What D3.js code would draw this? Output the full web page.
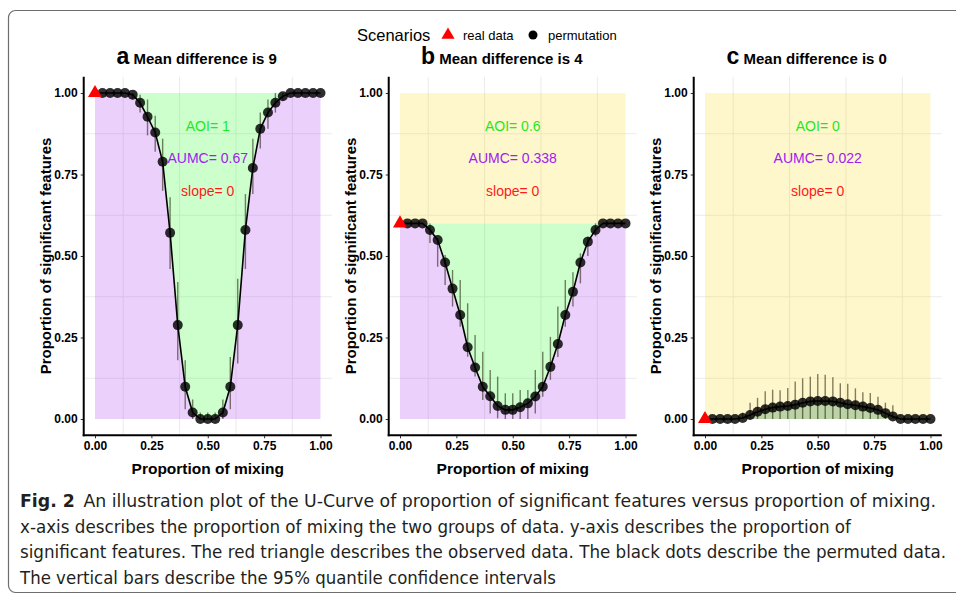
<!DOCTYPE html>
<html lang="en">
<head>
<meta charset="UTF-8">
<title>U-Curve of significant features</title>
<script src="https://d3js.org/d3.v7.min.js"></script>
<style>
  body { margin: 0; background: #fff; }
  text { font-family: "Liberation Sans", Arial, Helvetica, sans-serif; }
  .cap { font-family: "Liberation Sans Narrow", "DejaVu Sans Condensed", "Open Sans", sans-serif; fill: #231f20; }
</style>
</head>
<body>
<svg id="fig" width="956" height="599"></svg>
<script>
// proportion of mixing (x) for the 31 steps
const mixing = [0, 0.033, 0.067, 0.1, 0.133, 0.167, 0.2, 0.233, 0.267, 0.3, 0.333, 0.367, 0.4, 0.433, 0.467, 0.5,
                0.533, 0.567, 0.6, 0.633, 0.667, 0.7, 0.733, 0.767, 0.8, 0.833, 0.867, 0.9, 0.933, 0.967, 1];

// panel a - mean difference 9
const meanA = [1, 1, 1, 1, 1, 0.995, 0.97, 0.927, 0.879, 0.789, 0.571, 0.288, 0.099, 0.02, 0, 0,
               0, 0.02, 0.099, 0.288, 0.58, 0.77, 0.89, 0.94, 0.97, 0.99, 1, 1, 1, 1, 1];
const lowA  = [1, 1, 1, 1, 1, 0.98, 0.94, 0.87, 0.82, 0.7, 0.46, 0.18, 0.03, 0, 0, 0,
               0, 0, 0.03, 0.17, 0.46, 0.69, 0.83, 0.89, 0.94, 0.98, 1, 1, 1, 1, 1];
const highA = [1, 1, 1, 1, 1, 1, 0.995, 0.98, 0.93, 0.86, 0.68, 0.42, 0.18, 0.06, 0.02, 0.02,
               0.02, 0.06, 0.19, 0.43, 0.69, 0.86, 0.94, 0.98, 1, 1, 1, 1, 1, 1, 1];

// panel b - mean difference 4
const meanB = [0.6, 0.6, 0.6, 0.6, 0.58, 0.549, 0.48, 0.4, 0.319, 0.22, 0.158, 0.099, 0.07, 0.04, 0.028, 0.028,
               0.036, 0.048, 0.069, 0.099, 0.16, 0.23, 0.319, 0.39, 0.48, 0.544, 0.58, 0.6, 0.6, 0.6, 0.6];
const lowB  = [0.6, 0.6, 0.6, 0.6, 0.54, 0.467, 0.411, 0.345, 0.283, 0.191, 0.13, 0.058, 0.017, 0.002, 0, 0,
               0, 0, 0.017, 0.068, 0.12, 0.19, 0.283, 0.345, 0.416, 0.5, 0.56, 0.6, 0.6, 0.6, 0.6];
const highB = [0.6, 0.6, 0.6, 0.6, 0.6, 0.554, 0.503, 0.457, 0.426, 0.355, 0.258, 0.206, 0.15, 0.13, 0.079, 0.079,
               0.089, 0.089, 0.15, 0.206, 0.252, 0.345, 0.426, 0.45, 0.508, 0.56, 0.6, 0.6, 0.6, 0.6, 0.6];

// panel c - mean difference 0
const meanC = [0, 0, 0, 0, 0, 0.003, 0.012, 0.022, 0.03, 0.035, 0.038, 0.04, 0.044, 0.05, 0.054, 0.055,
               0.055, 0.054, 0.05, 0.045, 0.042, 0.038, 0.034, 0.028, 0.018, 0.008, 0, 0, 0, 0, 0];
const lowC  = [0, 0, 0, 0, 0, 0, 0, 0, 0, 0, 0, 0, 0, 0, 0, 0,
               0, 0, 0, 0, 0, 0, 0, 0, 0, 0, 0, 0, 0, 0, 0];
const highC = [0, 0, 0, 0, 0, 0.02, 0.05, 0.065, 0.085, 0.09, 0.088, 0.095, 0.115, 0.125, 0.13, 0.138,
               0.136, 0.128, 0.11, 0.108, 0.094, 0.082, 0.08, 0.068, 0.05, 0.042, 0, 0, 0, 0, 0];

// observed (real data) value at mixing 0, and the printed statistics
const realValues = [1, 0.6, 0];
const panelLetters = ["a", "b", "c"];
const meanDiffs = [9, 4, 0];
const aoiLabels = ["1", "0.6", "0"];
const aumcLabels = ["0.67", "0.338", "0.022"];
const slopeLabels = ["0", "0", "0"];
const yTicks = [0, 0.25, 0.5, 0.75, 1];
const xTicks = [0, 0.25, 0.5, 0.75, 1];
const minorBreaks = [0.125, 0.375, 0.625, 0.875];

const captionLines = [
  "An illustration plot of the U-Curve of proportion of significant features versus proportion of mixing.",
  "x-axis describes the proportion of mixing the two groups of data. y-axis describes the proportion of",
  "significant features. The red triangle describes the observed data. The black dots describe the permuted data.",
  "The vertical bars describe the 95% quantile confidence intervals"
];

const means = [meanA, meanB, meanC];
const lows = [lowA, lowB, lowC];
const highs = [highA, highB, highC];

const svg = d3.select("#fig");

// rounded frame around the figure
svg.append("rect")
  .attr("x", 8.5).attr("y", 10.5)
  .attr("width", 970).attr("height", 582)
  .attr("rx", 7)
  .attr("fill", "none")
  .attr("stroke", "#6d6e70")
  .attr("stroke-width", 1.2);

// legend
const legend = svg.append("g");
legend.append("text").attr("x", 357).attr("y", 41).style("font-size", "16.5px").text("Scenarios");
legend.append("path")
  .attr("d", d3.symbol(d3.symbolTriangle).size(75))
  .attr("transform", "translate(448,35)")
  .attr("fill", "red");
legend.append("text").attr("x", 463).attr("y", 39.5).style("font-size", "13px").text("real data");
legend.append("circle").attr("cx", 533).attr("cy", 35).attr("r", 4.5).attr("fill", "black");
legend.append("text").attr("x", 548).attr("y", 39.5).style("font-size", "13px").text("permutation");

const plotW = 225.5;
const panelLeft = [95, 400, 705];

panelLeft.forEach((left, k) => {
  const x = d3.scaleLinear().domain([0, 1]).range([left, left + plotW]);
  const y = d3.scaleLinear().domain([0, 1]).range([419, 93]);
  const g = svg.append("g");
  const pts = mixing.map((m, i) => ({ m: m, v: means[k][i], lo: lows[k][i], hi: highs[k][i] }));
  const real = realValues[k];

  // minor grid lines only
  minorBreaks.forEach(b => {
    g.append("line").attr("x1", x(-0.05)).attr("x2", x(1.05)).attr("y1", y(b)).attr("y2", y(b))
      .attr("stroke", "#ebebeb").attr("stroke-width", 1);
    g.append("line").attr("y1", y(-0.05)).attr("y2", y(1.05)).attr("x1", x(b)).attr("x2", x(b))
      .attr("stroke", "#ebebeb").attr("stroke-width", 1);
  });

  // area above the observed value
  if (real < 1) {
    g.append("rect")
      .attr("x", x(0)).attr("y", y(1))
      .attr("width", x(1) - x(0)).attr("height", y(real) - y(1))
      .attr("fill", "#ffd700").attr("fill-opacity", 0.2);
  }
  // area under the mean curve
  g.append("path")
    .datum(pts)
    .attr("d", d3.area().x(d => x(d.m)).y0(y(0)).y1(d => y(d.v)))
    .attr("fill", "#a020f0").attr("fill-opacity", 0.21);
  // area between mean curve and observed value
  g.append("path")
    .datum(pts)
    .attr("d", d3.area().x(d => x(d.m)).y0(d => y(d.v)).y1(y(real)))
    .attr("fill", "#00ff00").attr("fill-opacity", 0.2);

  // statistics
  const cx = x(0.5);
  g.append("text").attr("x", cx).attr("y", y(0.9) + 5).attr("text-anchor", "middle")
    .style("font-size", "14px").attr("fill", "#1ee81e").text("AOI= " + aoiLabels[k]);
  g.append("text").attr("x", cx).attr("y", y(0.8) + 5).attr("text-anchor", "middle")
    .style("font-size", "14px").attr("fill", "#a020f0").text("AUMC= " + aumcLabels[k]);
  g.append("text").attr("x", cx).attr("y", y(0.7) + 5).attr("text-anchor", "middle")
    .style("font-size", "14px").attr("fill", "#ff1a1a").text("slope= " + slopeLabels[k]);

  // 95% intervals
  g.selectAll(".err").data(pts.slice(1)).enter().append("line")
    .attr("x1", d => x(d.m)).attr("x2", d => x(d.m))
    .attr("y1", d => y(d.lo)).attr("y2", d => y(d.hi))
    .attr("stroke", "#1a1a00").attr("stroke-opacity", 0.55).attr("stroke-width", 1.4);

  // mean curve
  g.append("path")
    .datum(pts)
    .attr("d", d3.line().x(d => x(d.m)).y(d => y(d.v)))
    .attr("fill", "none").attr("stroke", "#000").attr("stroke-width", 1.6);

  g.selectAll(".dot").data(pts.slice(1)).enter().append("circle")
    .attr("cx", d => x(d.m)).attr("cy", d => y(d.v)).attr("r", 5)
    .attr("fill", "#000").attr("fill-opacity", 0.82);

  g.append("path")
    .attr("d", d3.symbol(d3.symbolTriangle).size(85))
    .attr("transform", `translate(${x(0)},${y(real)})`)
    .attr("fill", "red");

  // axes
  const yAxis = g.append("g")
    .attr("transform", `translate(${x(-0.05)},0)`)
    .call(d3.axisLeft(y).tickValues(yTicks).tickFormat(d3.format(".2f")).tickSize(3).tickPadding(3));
  const xAxis = g.append("g")
    .attr("transform", `translate(0,${y(-0.05)})`)
    .call(d3.axisBottom(x).tickValues(xTicks).tickFormat(d3.format(".2f")).tickSize(3).tickPadding(3));
  [yAxis, xAxis].forEach(ax => {
    ax.select(".domain").remove();
    ax.selectAll("text").style("font-size", "12px").style("font-weight", "bold").attr("fill", "#000")
      .style("font-family", "'Liberation Sans', Arial, sans-serif");
    ax.selectAll("line").attr("stroke", "#333");
  });
  g.append("line").attr("x1", x(-0.05)).attr("x2", x(-0.05)).attr("y1", y(1.05)).attr("y2", y(-0.05) + 1)
    .attr("stroke", "#000").attr("stroke-width", 2);
  g.append("line").attr("x1", x(-0.05) - 1).attr("x2", x(1.05)).attr("y1", y(-0.05)).attr("y2", y(-0.05))
    .attr("stroke", "#000").attr("stroke-width", 2);

  // axis titles
  g.append("text").attr("x", x(0.5)).attr("y", 474).attr("text-anchor", "middle")
    .style("font-size", "15.5px").style("font-weight", "bold").text("Proportion of mixing");
  g.append("text")
    .attr("transform", `translate(${x(-0.05) - 33},${y(0.5)}) rotate(-90)`)
    .attr("text-anchor", "middle")
    .style("font-size", "15px").style("font-weight", "bold").text("Proportion of significant features");

  // panel title
  const t = g.append("text").attr("x", x(0.5) - 11).attr("y", 64).attr("text-anchor", "middle");
  t.append("tspan").style("font-size", "23px").style("font-weight", "bold").text(panelLetters[k]);
  t.append("tspan").style("font-size", "15px").style("font-weight", "bold").text(" Mean difference is " + meanDiffs[k]);
});

// caption
const capBase = [507, 533, 558, 584];
const capEnds = [936, 851, 946, 556];
captionLines.forEach((line, i) => {
  const txt = svg.append("text").attr("class", "cap")
    .attr("x", 20).attr("y", capBase[i])
    .attr("textLength", capEnds[i] - 20).attr("lengthAdjust", "spacingAndGlyphs")
    .style("font-size", "17px");
  if (i === 0) {
    txt.append("tspan").style("font-weight", "bold").text("Fig. 2");
    txt.append("tspan").text("\u2002" + line);
  } else {
    txt.text(line);
  }
});
</script>
</body>
</html>
